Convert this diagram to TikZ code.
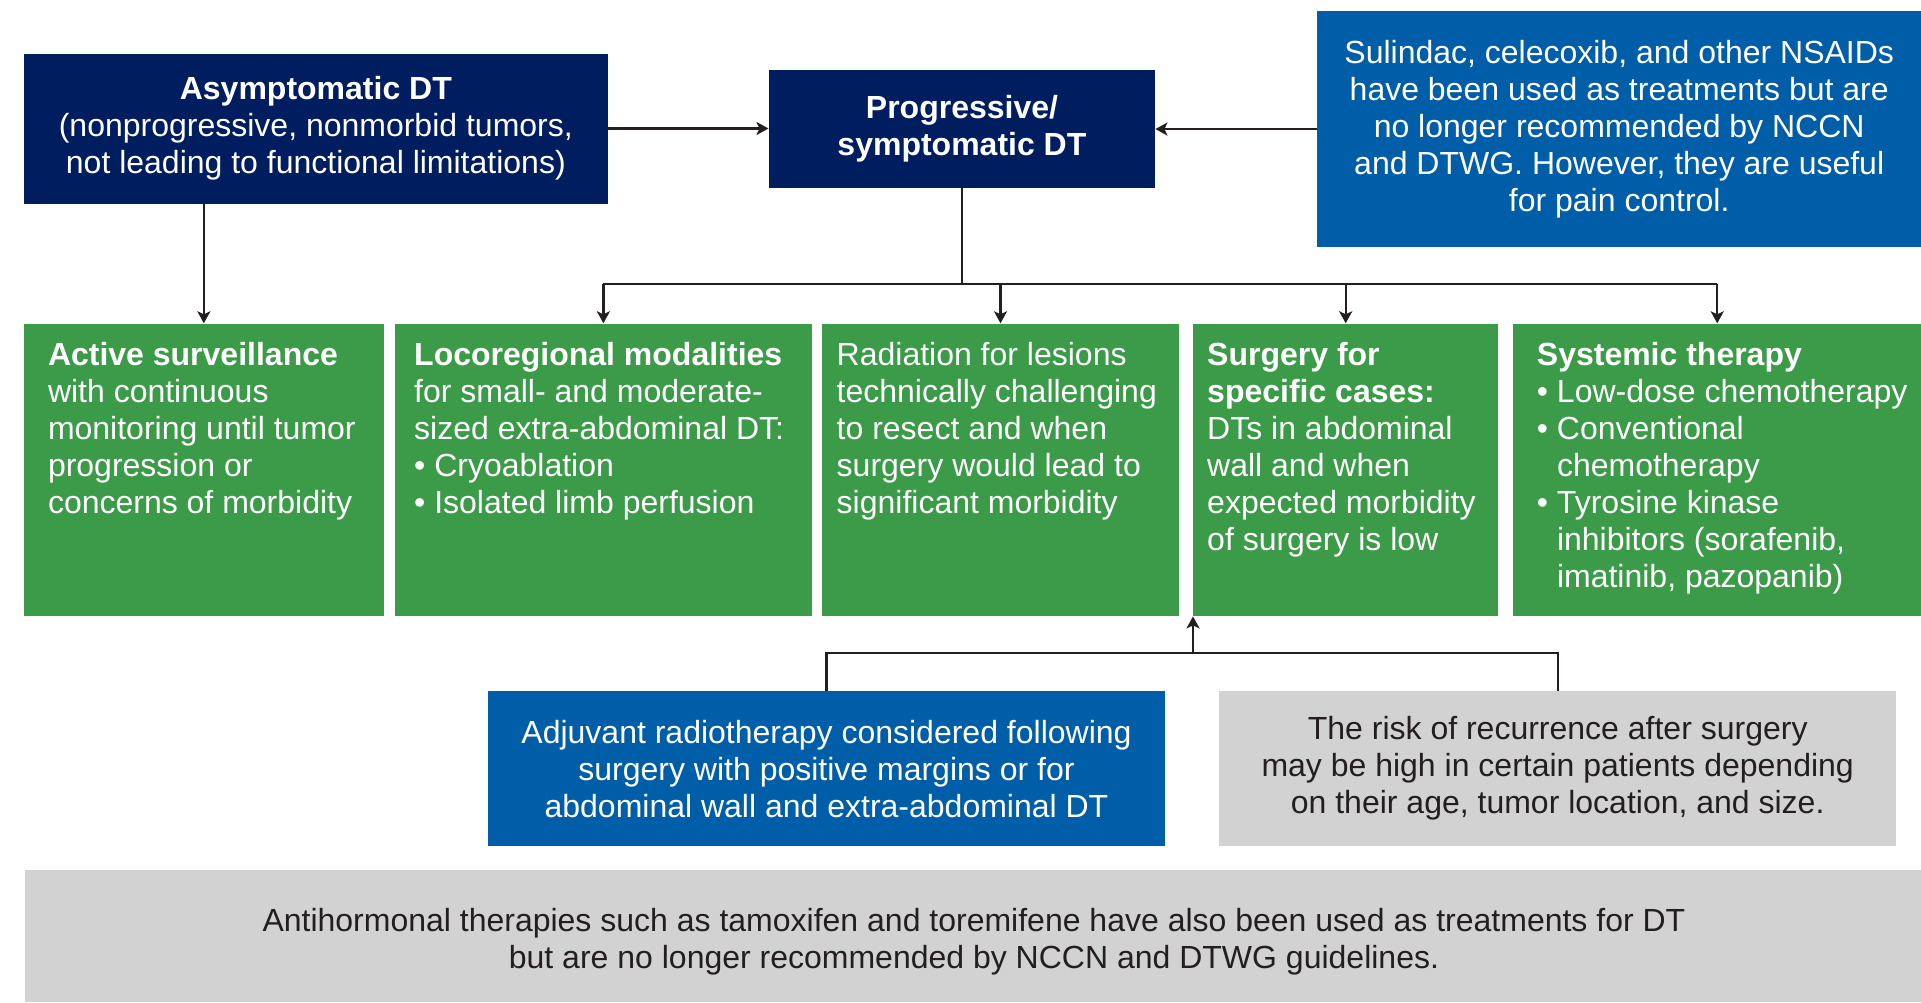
\documentclass[tikz,border=0pt]{standalone}
\usepackage{fontspec}
\setmainfont{Liberation Sans}
\usetikzlibrary{arrows.meta}
\definecolor{navyDT}{RGB}{0,29,96}
\definecolor{blueDT}{RGB}{0,93,167}
\definecolor{greenDT}{RGB}{60,155,72}
\definecolor{grayDT}{RGB}{211,210,210}
\definecolor{lineDT}{RGB}{35,31,32}

\begin{document}
\begin{tikzpicture}[x=1pt, y=-1pt, >={Stealth[length=12pt, width=13pt, inset=3pt]},
  box/.style={anchor=north west, inner sep=0pt, align=center, text=white,
    font=\fontsize{32}{37}\selectfont},
  green/.style={box, fill=greenDT, minimum height=292.7pt},
  txt/.style={anchor=north west, inner sep=0pt, align=left, text=white,
    font=\fontsize{32}{37}\selectfont},
  link/.style={line width=2.2pt, draw=lineDT}]
  \useasboundingbox (0,0) rectangle (1921,1002);

  % Top row
  \node[box, fill=navyDT, minimum width=584.7pt, minimum height=150pt] (asym) at (23.3,53.3)
    {\textbf{Asymptomatic DT}\\(nonprogressive, nonmorbid tumors,\\not leading to functional limitations)};
  \node[box, fill=navyDT, minimum width=386.5pt, minimum height=117.3pt] (prog) at (768.5,70)
    {\textbf{Progressive/}\\\textbf{symptomatic DT}};
  \node[box, fill=blueDT, minimum width=604pt, minimum height=235.7pt] (nsaid) at (1317,11)
    {Sulindac, celecoxib, and other NSAIDs\\have been used as treatments but are\\no longer recommended by NCCN\\and DTWG. However, they are useful\\for pain control.};

  % Treatment boxes
  \node[green, minimum width=360.7pt] (surv) at (23.3,323.3) {};
  \node[green, minimum width=416.4pt] (loco) at (395,323.3) {};
  \node[green, minimum width=356.6pt] (rad) at (822,323.3) {};
  \node[green, minimum width=305pt] (surg) at (1193,323.3) {};
  \node[green, minimum width=408pt] (syst) at (1513,323.3) {};

  \node[txt] (survtxt) at (47.8,342)
    {\textbf{Active surveillance}\\with continuous\\monitoring until tumor\\progression or\\concerns of morbidity};
  \node[txt] (locotxt) at (414,342)
    {\textbf{Locoregional modalities}\\for small- and moderate-\\sized extra-abdominal DT:\\\textbullet{} Cryoablation\\\textbullet{} Isolated limb perfusion};
  \node[txt] (radtxt) at (836.5,342)
    {Radiation for lesions\\technically challenging\\to resect and when\\surgery would lead to\\significant morbidity};
  \node[txt] (surgtxt) at (1207,342)
    {\textbf{Surgery for}\\\textbf{specific cases:}\\DTs in abdominal\\wall and when\\expected morbidity\\of surgery is low};
  \node[txt] (systtxt) at (1536.7,342)
    {\textbf{Systemic therapy}\\\textbullet{} Low-dose chemotherapy\\\textbullet{} Conventional\\\hphantom{\textbullet{} }chemotherapy\\\textbullet{} Tyrosine kinase\\\hphantom{\textbullet{} }inhibitors (sorafenib,\\\hphantom{\textbullet{} }imatinib, pazopanib)};

  % Notes below surgery
  \node[box, fill=blueDT, minimum width=677.4pt, minimum height=155.3pt] (adj) at (487.6,690.7)
    {Adjuvant radiotherapy considered following\\surgery with positive margins or for\\abdominal wall and extra-abdominal DT};
  \node[box, fill=grayDT, text=lineDT, minimum width=677pt, minimum height=155.3pt] (risk) at (1219,690.7)
    {The risk of recurrence after surgery\\may be high in certain patients depending\\on their age, tumor location, and size.};
  \node[box, fill=grayDT, minimum width=1896.5pt, minimum height=132.7pt] (anti) at (24.5,869.3) {};
  \node[box, anchor=center, text=lineDT] (antitxt) at (974,942)
    {Antihormonal therapies such as tamoxifen and toremifene have also been used as treatments for DT\\but are no longer recommended by NCCN and DTWG guidelines.};

  % Connectors
  \coordinate (fork) at (0,284.3);
  \coordinate (join) at (0,653.3);
  \draw[link,->] (asym.east) -- (prog.west |- asym.east);
  \draw[link,->] (nsaid.west) -- (prog.east |- nsaid.west);
  \draw[link,->] (asym.south -| surv.north) -- (surv.north);
  \draw[link] (prog.south) -- (prog.south |- fork);
  \draw[link] (loco.north |- fork) -- (syst.north |- fork);
  \foreach \b in {loco,rad,surg,syst}
    \draw[link,->] (\b.north |- fork) -- (\b.north);
  \draw[link] (adj.north) -- (adj.north |- join) -- (risk.north |- join) -- (risk.north);
  \draw[link,->] (surg.south west |- join) -- (surg.south west);
\end{tikzpicture}
\end{document}
